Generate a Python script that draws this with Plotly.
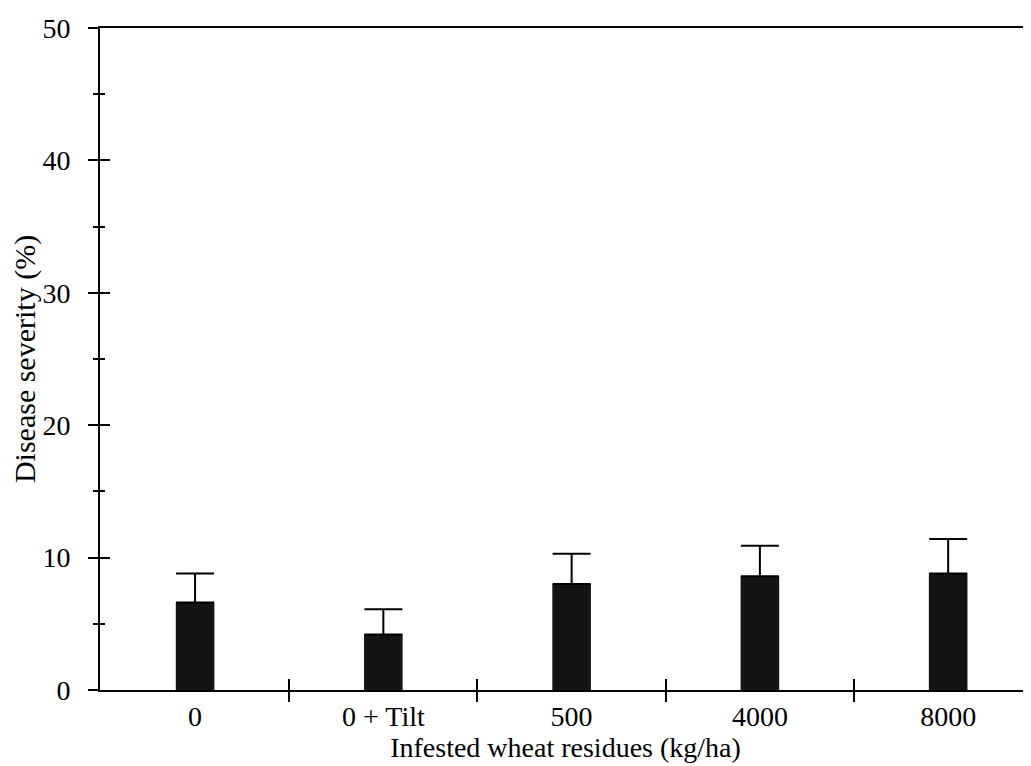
import plotly.graph_objects as go

categories = ["0", "0 + Tilt", "500", "4000", "8000"]
severity = [6.6, 4.2, 8.0, 8.6, 8.8]
error_up = [2.2, 1.9, 2.3, 2.3, 2.6]
y_ticks = [0, 10, 20, 30, 40, 50]

positions = list(range(len(categories)))
boundaries = [p + 0.5 for p in positions[:-1]]

FONT = "Liberation Serif"

fig = go.Figure()
fig.add_trace(go.Bar(
    x=positions, y=severity, width=0.205,
    marker=dict(color="#141414", line=dict(width=0)),
    error_y=dict(type="data", symmetric=False, array=error_up,
                 arrayminus=[0] * len(error_up), color="black",
                 thickness=2, width=19),
    showlegend=False,
))
# invisible traces to anchor overlay axes
fig.add_trace(go.Scatter(x=[0], y=[0], xaxis="x2", yaxis="y2", mode="markers",
                         marker=dict(opacity=0), showlegend=False, hoverinfo="skip"))
fig.add_trace(go.Scatter(x=[0], y=[0], xaxis="x3", yaxis="y3", mode="markers",
                         marker=dict(opacity=0), showlegend=False, hoverinfo="skip"))

xr = [-0.505, 4.44]
fig.update_layout(
    width=1023, height=758,
    margin=dict(l=92, r=0, t=20, b=76),
    paper_bgcolor="white", plot_bgcolor="white",
    font=dict(family=FONT, color="black", size=28),
    xaxis=dict(range=xr, tickvals=positions, ticktext=categories, ticks="",
               showline=True, linecolor="black", linewidth=2, mirror=True,
               showgrid=False, zeroline=False, tickfont=dict(size=28),
               title=dict(text="Infested wheat residues (kg/ha)", font=dict(size=28), standoff=2)),
    yaxis=dict(range=[0, 50], tickvals=y_ticks, ticks="outside", ticklen=10,
               tickwidth=2, tickcolor="black", ticklabelstandoff=12,
               minor=dict(dtick=5, tick0=0, ticks="outside", ticklen=5, tickwidth=2, tickcolor="black"),
               showline=True, linecolor="black", linewidth=2,
               showgrid=False, zeroline=False, tickfont=dict(size=28),
               title=dict(text="Disease severity (%)", font=dict(size=30), standoff=7)),
    xaxis2=dict(overlaying="x", range=xr, tickvals=boundaries, ticks="outside",
                ticklen=11, tickwidth=2, tickcolor="black", showticklabels=False,
                showline=False, showgrid=False, zeroline=False),
    xaxis3=dict(overlaying="x", range=xr, tickvals=boundaries, ticks="inside",
                ticklen=11, tickwidth=2, tickcolor="black", showticklabels=False,
                showline=False, showgrid=False, zeroline=False),
    yaxis2=dict(overlaying="y", range=[0, 50], tickvals=y_ticks, ticks="inside",
                ticklen=10, tickwidth=2, tickcolor="black",
                minor=dict(dtick=5, tick0=0, ticks="inside", ticklen=5, tickwidth=2, tickcolor="black"),
                showticklabels=False, showline=False, showgrid=False, zeroline=False),
    yaxis3=dict(overlaying="y", range=[0, 50], showticklabels=False, ticks="",
                showline=False, showgrid=False, zeroline=False),
)

fig.write_html("out.html")
